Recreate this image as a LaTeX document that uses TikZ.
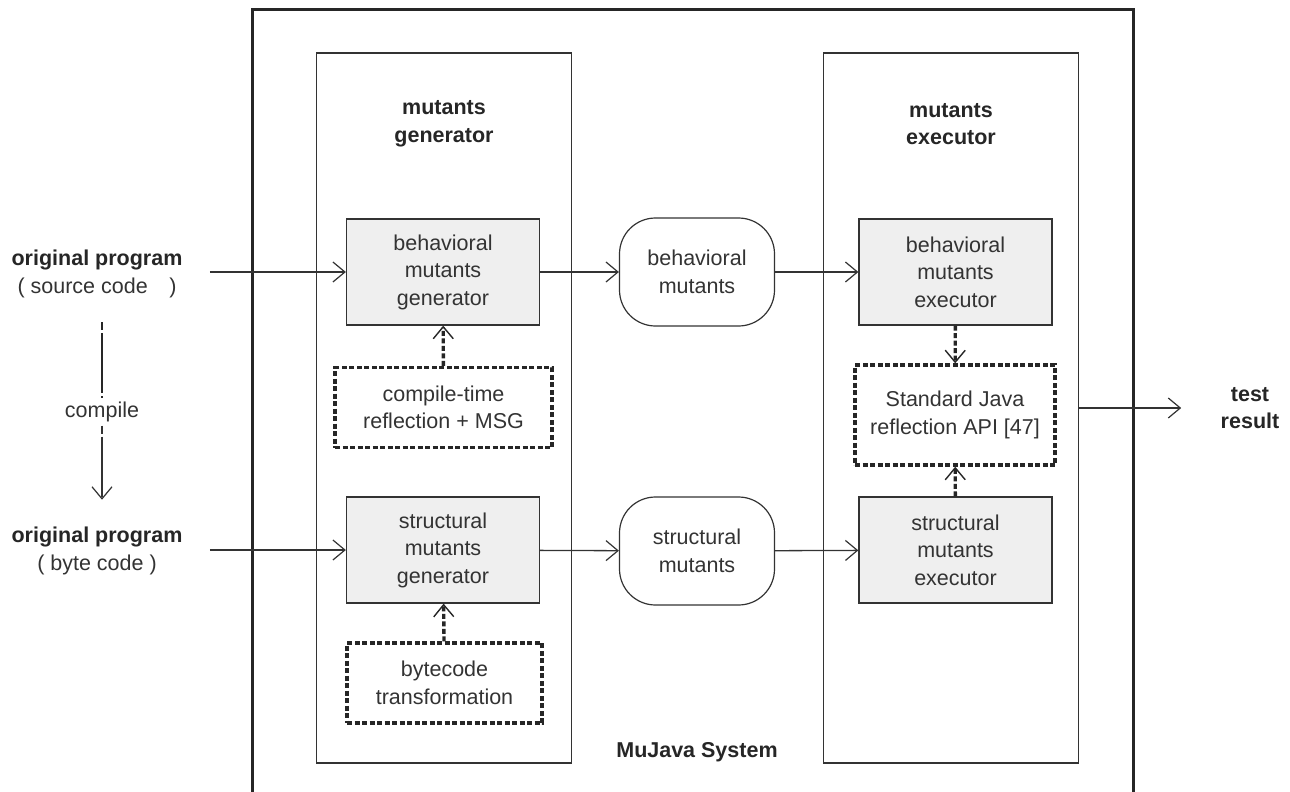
\documentclass[tikz,border=0pt]{standalone}
\usepackage{fontspec}
\setmainfont{Liberation Sans}
\usepackage{xcolor}
\usepackage{tikz}
\usetikzlibrary{arrows.meta,calc}
\definecolor{ink}{HTML}{333333}
\definecolor{boxgray}{HTML}{EFEFEF}

\begin{document}
\begin{tikzpicture}[
    x=1pt, y=-1pt,
    every node/.style={font=\fontsize{21.5}{27.5}\selectfont, text=ink, align=center},
    lane/.style={rectangle, draw=ink, line width=1.2pt, minimum width=255pt, minimum height=710pt},
    unit/.style={rectangle, draw=ink, line width=1.3pt, fill=boxgray, minimum width=193pt, minimum height=106pt, inner sep=0pt},
    helper/.style={rectangle, draw=black!85, line width=3.4pt, dash pattern=on 5pt off 2.5pt, minimum height=80pt, inner sep=0pt},
    pool/.style={rectangle, rounded corners=36pt, draw=ink, line width=1.2pt, minimum width=155pt, minimum height=108pt},
    heading/.style={font=\fontsize{21.5}{27.5}\selectfont\bfseries, text=black!85},
    arrow/.style={-{Straight Barb[length=12pt,width=20pt,line width=1.2pt]}, draw=ink, line width=1.3pt},
    uses/.style={-{Straight Barb[length=12pt,width=20pt,line width=1.4pt]}, draw=black!85, line width=3.4pt, dash pattern=on 5pt off 2.5pt},
    compile/.style={draw=black!85, line width=1.8pt, dash pattern=on 8pt off 3pt on 60pt off 3pt}
]
\useasboundingbox (0,0) rectangle (1290,792);

% MuJava system frame
\draw[line width=3pt, draw=black!85] (252,792) |- (1133,10) -- (1133,792);
\node[heading] (system) at (697,752) {MuJava System};

% Generator side
\node[lane] (colgen) at (444,408) {};
\node[heading] (gentitle) at (444,124) {mutants\\generator};
\node[unit] (bgen) at (443,272) {behavioral\\mutants\\generator};
\node[helper, minimum width=217pt] (ctr) at (443.5,407.5) {compile-time\\reflection + MSG};
\node[unit] (sgen) at (443,550) {structural\\mutants\\generator};
\node[helper, minimum width=195pt] (btr) at (444.5,683) {bytecode\\transformation};

% Mutants
\node[pool] (bmut) at (697,272) {behavioral\\mutants};
\node[pool] (smut) at (697,551) {structural\\mutants};

% Executor side
\node[lane] (colexec) at (951,408) {};
\node[heading] (exectitle) at (951,124) {mutants\\executor};
\node[unit] (bexec) at (955.5,272) {behavioral\\mutants\\executor};
\node[helper, minimum width=200pt, minimum height=100pt] (sjava) at (955,415) {Standard Java\\reflection API [47]};
\node[unit] (sexec) at (955.5,550) {structural\\mutants\\executor};

% Inputs and output
\node (srcprog) at (97,274) {\textbf{\color{black!85}original program}\\( source code\quad)};
\node (byteprog) at (97,551) {\textbf{\color{black!85}original program}\\( byte code )};
\node (cmp) at (102,412) {compile};
\node[heading] (result) at (1250,408) {test\\result};

% Arrows
\draw[compile] (cmp |- srcprog.south) ++(0,21) -- (cmp.north);
\draw[compile, arrow, line width=1.8pt] (cmp.south) -- ([yshift=24pt]cmp |- byteprog.north);
\draw[arrow, shorten <=24pt] (srcprog.east |- bgen) -- (bgen.west);
\draw[arrow, shorten <=24pt] (byteprog.east |- sgen) -- (sgen.west);
\draw[arrow] (bgen) -- (bmut);
\draw[arrow] (bmut) -- (bexec);
\draw[arrow] (sgen) -- (smut);
\draw[arrow] (smut) -- (sexec);
\draw[uses] (ctr) -- (bgen);
\draw[uses] (btr) -- (sgen);
\draw[uses] (bexec) -- (sjava);
\draw[uses] (sexec) -- (sjava);
\draw[arrow, shorten >=36pt] (colexec.east |- result) -- (result.west);

\end{tikzpicture}
\end{document}
